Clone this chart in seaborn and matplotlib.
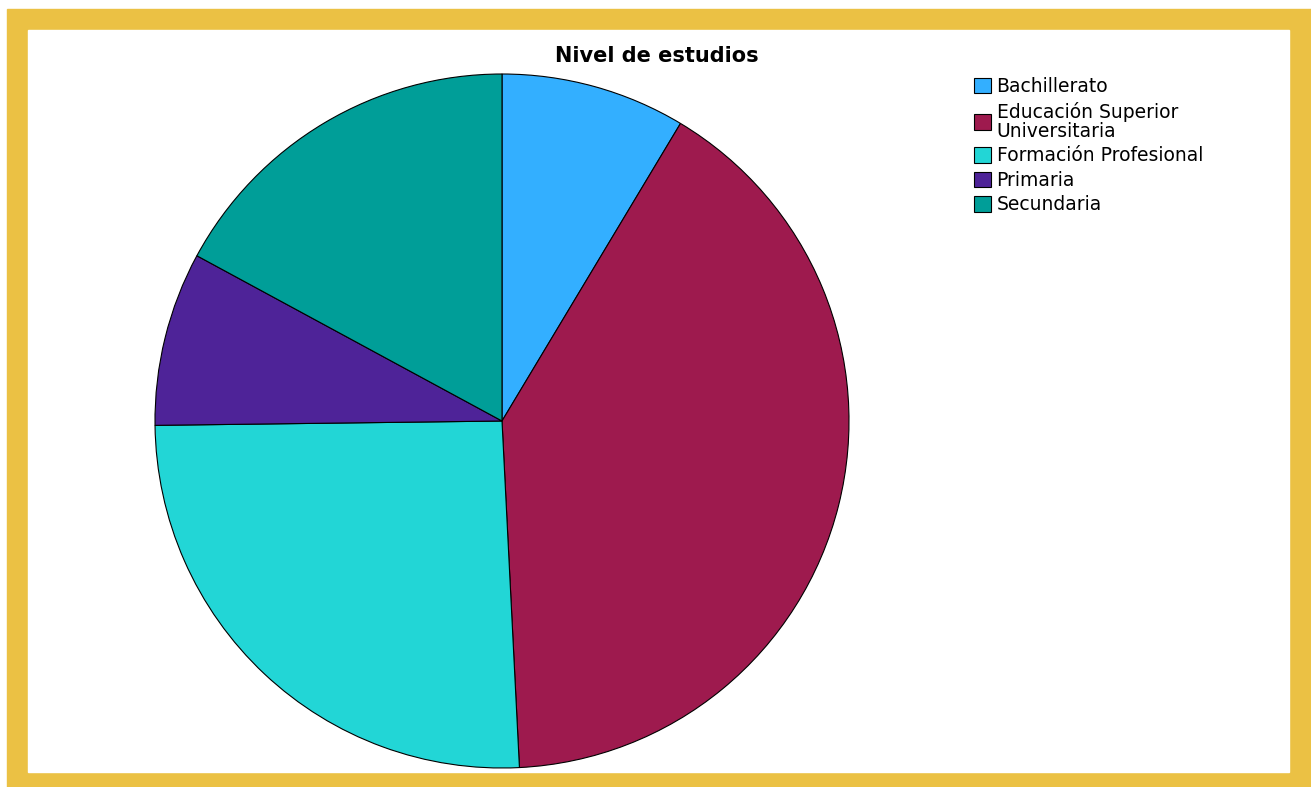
import matplotlib
matplotlib.use("Agg")
import matplotlib.pyplot as plt
import seaborn as sns
from matplotlib.patches import Rectangle

# Nivel de estudios - percentages
categories = ["Bachillerato", "Educación Superior\nUniversitaria",
              "Formación Profesional", "Primaria", "Secundaria"]
shares = [8.6, 40.6, 25.6, 8.1, 17.1]
colors = ["#33AFFF", "#9E1A4E", "#22D6D6", "#4E2398", "#009E98"]

sns.set_theme(style="white")
plt.rcParams["font.family"] = ["DejaVu Sans"]
plt.rcParams["text.color"] = "black"

W, H = 1311, 787
fig = plt.figure(figsize=(W / 100, H / 100), dpi=100)

# yellow frame with white inside, on a background axes
bg = fig.add_axes([0, 0, 1, 1], zorder=-1)
bg.set_xlim(0, W)
bg.set_ylim(H, 0)
bg.axis("off")
bg.add_patch(Rectangle((7, 9), W - 7, H - 9, color="#EBC144"))
bg.add_patch(Rectangle((28, 30), 1289 - 28, 772 - 30, color="white"))

# pie axes: centre ~ (502, 421), radius ~ 347 px
ax = fig.add_axes([155 / W, (H - 768) / H, 694 / W, 694 / H], zorder=1)
wedges, _ = ax.pie(shares, colors=colors, startangle=90, counterclock=False,
                   wedgeprops=dict(edgecolor="black", linewidth=0.8))
ax.set_xlim(-1, 1)
ax.set_ylim(-1, 1)
ax.set_aspect("equal")
ax.axis("off")

fig.text(657 / W, 1 - 56 / H, "Nivel de estudios", ha="center", va="center",
         fontsize=15, fontweight="bold", color="black")

leg = fig.legend(wedges, categories, loc="upper left",
                 bbox_to_anchor=(974 / W, 1 - 77 / H), frameon=False,
                 fontsize=13.5, handlelength=0.9, handleheight=0.9,
                 handletextpad=0.3, labelspacing=0.3, borderpad=0,
                 borderaxespad=0)
for h in leg.legend_handles:
    h.set_edgecolor("black")
    h.set_linewidth(0.8)
for t in leg.get_texts():
    t.set_color("black")
    t.set_linespacing(1.0)

fig.savefig("out.png", dpi=100, facecolor="white")
